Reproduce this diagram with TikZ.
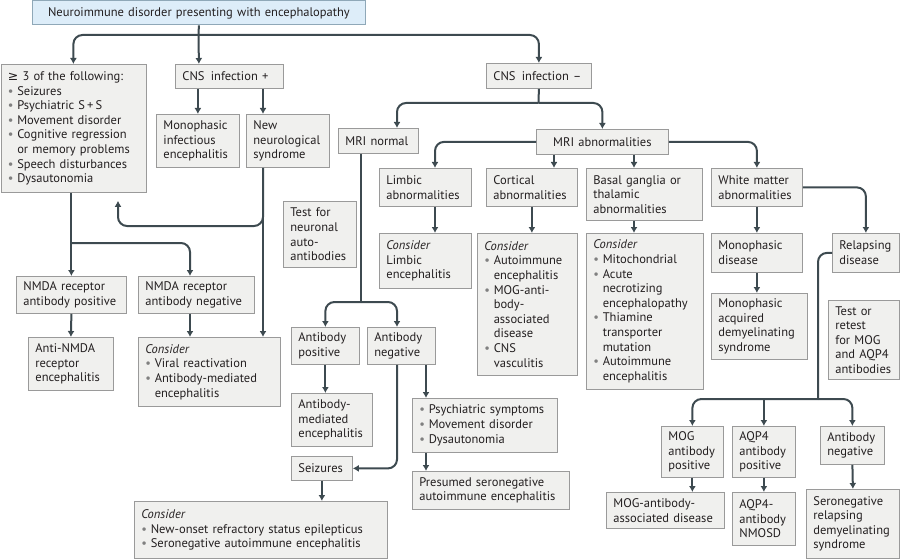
\documentclass[tikz,border=0pt]{standalone}
\usepackage{fontspec}
\setmainfont{PT Sans}
\newfontfamily\symfont{DejaVu Sans}
\usetikzlibrary{arrows.meta}

\definecolor{boxfill}{HTML}{F0F0EE}
\definecolor{boxline}{HTML}{9A9A9A}
\definecolor{topfill}{HTML}{DDEDF9}
\definecolor{topline}{HTML}{8FA8B8}
\definecolor{linec}{HTML}{3D4A50}
\definecolor{txt}{HTML}{231F20}

\newcommand{\bul}{\makebox[0.75em][l]{\textcolor{gray}{\textbullet}}}
\newcommand{\skp}{\hspace*{0.75em}}
\newcommand{\boxfont}{\fontsize{12.5}{14.6}\selectfont\hyphenpenalty=10000\relax}

\tikzset{
    box/.style={draw=boxline, fill=boxfill, line width=0.8pt, anchor=north west,
        align=left, inner xsep=7pt, inner ysep=3pt, text=txt, font=\boxfont},
    topbox/.style={box, draw=topline, fill=topfill, align=center},
    line/.style={draw=linec, line width=2pt, rounded corners=9pt},
    arr/.style={line, -{Latex[length=6pt,width=7pt]}},
}

\begin{document}
\begin{tikzpicture}[x=1pt,y=-1pt]
    \useasboundingbox (0,0) rectangle (900,559);
    % boxes
    \node[topbox, text width=319pt, minimum height=24pt] (top) at (32,0.5)
        {Neuroimmune disorder presenting with encephalopathy};
    \node[box, text width=131pt, minimum height=128pt] (crit) at (0.5,64)
        {{\symfont ≥} 3 of the following:\\ \bul Seizures\\ \bul Psychiatric S\,+\,S\\
         \bul Movement disorder\\ \bul Cognitive regression\\ \skp or memory problems\\
         \bul Speech disturbances\\ \bul Dysautonomia};
    \node[box, text width=94pt, minimum height=24pt] (cnsp) at (175,64) {CNS\, infection +};
    \node[box, text width=69pt, minimum height=53pt] (mono) at (156,114)
        {Monophasic\\ infectious\\ encephalitis};
    \node[box, text width=69pt, minimum height=53pt] (newneuro) at (246,114)
        {New\\ neurological\\ syndrome};
    \node[box, text width=91pt, minimum height=25pt] (cnsm) at (486,63) {CNS\, infection --};
    \node[box, text width=66pt, minimum height=25pt] (mrin) at (338,128) {MRI normal};
    \node[box, text width=118pt, minimum height=25pt, align=center] (mria) at (536,129)
        {MRI abnormalities};
    \node[box, text width=59pt, minimum height=66pt] (testneu) at (283,201)
        {Test for\\ neuronal\\ auto-\\ antibodies};
    \node[box, text width=78pt, minimum height=38pt] (limb) at (379,168)
        {Limbic\\ abnormalities};
    \node[box, text width=77pt, minimum height=38pt] (cort) at (486,168)
        {Cortical\\ abnormalities};
    \node[box, text width=102pt, minimum height=52pt] (basal) at (586,168)
        {Basal ganglia or\\ thalamic\\ abnormalities};
    \node[box, text width=77pt, minimum height=38pt] (white) at (711,168)
        {White matter\\ abnormalities};
    \node[box, text width=78pt, minimum height=55pt] (conlimb) at (379,233)
        {\textit{Consider}\\ Limbic\\ encephalitis};
    \node[box, text width=86pt, minimum height=142pt] (concort) at (477,233)
        {\textit{Consider}\\ \bul Autoimmune\\ \skp encephalitis\\ \bul MOG-anti-\\
         \skp body-\\ \skp associated\\ \skp disease\\ \bul CNS\\ \skp vasculitis};
    \node[box, text width=103pt, minimum height=156pt] (conbasal) at (586,233)
        {\textit{Consider}\\ \bul Mitochondrial\\ \bul Acute\\ \skp necrotizing\\
         \skp encephalopathy\\ \bul Thiamine\\ \skp transporter\\ \skp mutation\\
         \bul Autoimmune\\ \skp encephalitis};
    \node[box, text width=77pt, minimum height=39pt] (monod) at (711,233)
        {Monophasic\\ disease};
    \node[box, text width=82pt, minimum height=66pt] (monoacq) at (711,293)
        {Monophasic\\ acquired\\ demyelinating\\ syndrome};
    \node[box, text width=53pt, minimum height=39pt] (relap) at (832,233)
        {Relapsing\\ disease};
    \node[box, text width=57pt, minimum height=79pt] (testmog) at (828,300)
        {Test or\\ retest\\ for MOG\\ and AQP4\\ antibodies};
    \node[box, text width=48pt, minimum height=51pt] (mogp) at (661,426)
        {MOG\\ antibody\\ positive};
    \node[box, text width=49pt, minimum height=51pt] (aqpp) at (732,426)
        {AQP4\\ antibody\\ positive};
    \node[box, text width=50pt, minimum height=38pt] (abnr) at (820,426)
        {Antibody\\ negative};
    \node[box, text width=104pt, minimum height=36pt] (mogd) at (606,492)
        {MOG-antibody-\\ associated disease};
    \node[box, text width=49pt, minimum height=53pt] (nmosd) at (732,492)
        {AQP4-\\ antibody\\ NMOSD};
    \node[box, text width=79pt, minimum height=69pt] (seroneg) at (806,489)
        {Seronegative\\ relapsing\\ demyelinating\\ syndrome};
    \node[box, text width=96pt, minimum height=37pt] (nmdap) at (16,276)
        {NMDA receptor\\ antibody positive};
    \node[box, text width=102pt, minimum height=37pt] (nmdan) at (138,276)
        {NMDA receptor\\ antibody negative};
    \node[box, text width=71pt, minimum height=53pt] (antinmda) at (28,337)
        {Anti-NMDA\\ receptor\\ encephalitis};
    \node[box, text width=128pt, minimum height=69pt] (conviral) at (138,337)
        {\textit{Consider}\\ \bul Viral reactivation\\ \bul Antibody-mediated\\ \skp encephalitis};
    \node[box, text width=54pt, minimum height=37pt] (abp) at (291,327)
        {Antibody\\ positive};
    \node[box, text width=54pt, minimum height=37pt] (abn) at (367,327)
        {Antibody\\ negative};
    \node[box, text width=67pt, minimum height=53pt] (abmed) at (291,393)
        {Antibody-\\ mediated\\ encephalitis};
    \node[box, text width=47pt, minimum height=24pt] (seiz) at (291,456) {Seizures};
    \node[box, text width=131pt, minimum height=54pt] (psych) at (412,398)
        {\bul Psychiatric symptoms\\ \bul Movement disorder\\ \bul Dysautonomia};
    \node[box, text width=143pt, minimum height=38pt] (presumed) at (412,471)
        {Presumed seronegative\\ autoimmune encephalitis};
    \node[box, text width=239pt, minimum height=57pt] (connew) at (134,501)
        {\textit{Consider}\\ \bul New-onset refractory status epilepticus\\
         \bul Seronegative autoimmune encephalitis};

    % guides and junctions
    \coordinate (gNew) at (263,0);
    \coordinate (gBack) at (118,0);
    \coordinate (gNeg) at (190,0);
    \coordinate (gNorm) at (361,0);
    \coordinate (gMri) at (397,0);
    \coordinate (gPsy) at (426,0);
    \coordinate (gLimb) at (435,0);
    \coordinate (gCort) at (554,0);
    \coordinate (gBas) at (634,0);
    \coordinate (j0) at (198.5,35);
    \coordinate (j1) at (71,243);
    \coordinate (j2) at (538.5,103);
    \coordinate (j3) at (361,302);
    \coordinate (j4) at (818,399);

    % left part
    \draw[line] (top.south) -- (j0);
    \draw[arr] (j0) -| (crit.north);
    \draw[arr] (j0) -- (top.south |- cnsp.north);
    \draw[arr] (j0) -| (cnsm.north);
    \draw[arr] (cnsp.south -| mono.north) -- (mono.north);
    \draw[arr] (gNew |- cnsp.south) -- (gNew |- newneuro.north);
    \draw[arr] (gNew |- newneuro.south) -- (gNew |- conviral.north);
    \draw[arr, shorten >=8pt] (gNew |- newneuro.south) |- (118,226) -- (gBack |- crit.south);
    \draw[arr] (crit.south -| nmdap.north) -- (nmdap.north);
    \draw[arr] (j1) -| (gNeg |- nmdan.north);
    \draw[arr] (nmdap.south) -- (antinmda.north);
    \draw[arr] (gNeg |- nmdan.south) -- (gNeg |- conviral.north);

    % MRI normal
    \draw[line] (cnsm.south) -- (j2);
    \draw[arr] (j2) -| (gMri |- mrin.north);
    \draw[arr] (j2) -| (mria.north);
    \draw[line] (gNorm |- mrin.south) -- (j3);
    \draw[arr] (j3) -| (abp.north);
    \draw[arr] (j3) -| (gMri |- abn.north);
    \draw[arr] (abp.south) -- (abp.south |- abmed.north);
    \draw[arr] (gMri |- abn.south) |- (seiz.east);
    \draw[arr] (gPsy |- abn.south) -- (gPsy |- psych.north);
    \draw[arr] (gPsy |- psych.south) -- (gPsy |- presumed.north);
    \draw[arr] (seiz.south) -- (seiz.south |- connew.north);

    % MRI abnormalities
    \draw[arr] (mria.west) -| (gLimb |- limb.north);
    \draw[arr] (gCort |- mria.south) -- (gCort |- cort.north);
    \draw[arr] (gBas |- mria.south) -- (gBas |- basal.north);
    \draw[arr] (mria.east) -| (white.north);
    \draw[arr] (gLimb |- limb.south) -- (gLimb |- conlimb.north);
    \draw[arr] (cort.south) -- (cort.south |- concort.north);
    \draw[arr] (gBas |- basal.south) -- (gBas |- conbasal.north);
    \draw[arr] (white.south) -- (monod.north);
    \draw[arr] (monod.south) -- (monod.south |- monoacq.north);
    \draw[arr] (white.east) -| (relap.north);

    % relapsing disease
    \draw[line] (relap.west) -| (j4);
    \draw[arr] (j4) -| (mogp.north);
    \draw[arr] (j4) -| (abnr.north);
    \draw[arr] (aqpp.north |- j4) -- (aqpp.north);
    \draw[arr] (mogp.south) -- (mogp.south |- mogd.north);
    \draw[arr] (aqpp.south) -- (nmosd.north);
    \draw[arr] (abnr.south) -- (seroneg.north);
\end{tikzpicture}
\end{document}
